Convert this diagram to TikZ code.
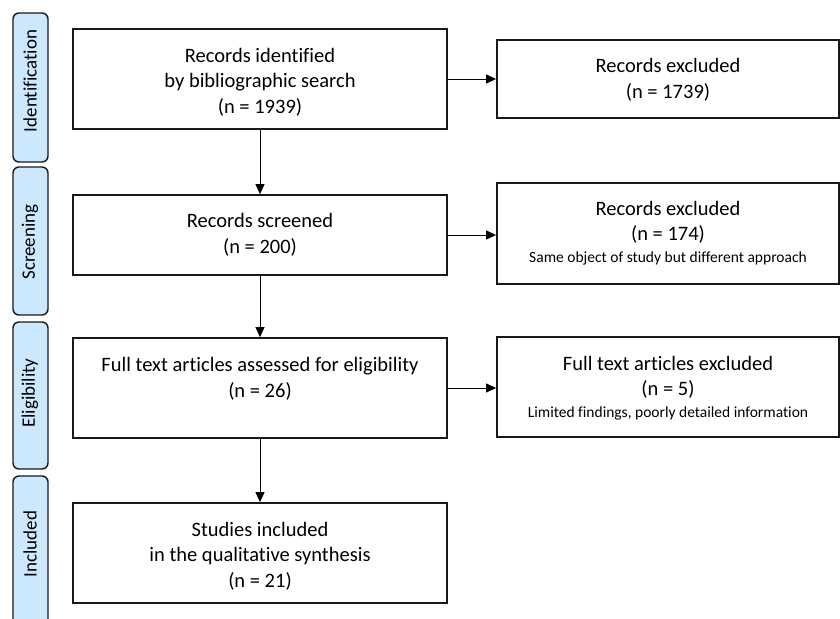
\documentclass[tikz,border=0pt]{standalone}
\usepackage{fontspec}
\setmainfont{Carlito}[Ligatures=NoCommon]
\usetikzlibrary{arrows.meta}
\definecolor{phase}{RGB}{204,232,255}
\begin{document}
\begin{tikzpicture}[x=1pt,y=-1pt,
  mainbox/.style={draw=black!90, line width=1.8pt, fill=white, inner sep=0pt},
  phasebox/.style={draw=black!90, line width=1.4pt, fill=phase, rounded corners=6pt, inner sep=0pt, minimum width=35pt},
  big/.style={align=center, font=\fontsize{20.5}{25.5}\selectfont, inner sep=0pt},
  phtext/.style={rotate=90, font=\fontsize{19}{23}\selectfont, inner sep=0pt},
  conn/.style={line width=1pt, -{Triangle[length=10pt,width=9pt]}}]
\useasboundingbox (0,0) rectangle (840,618);
% phase labels
\node[phasebox, minimum height=149pt] (pI) at (30.5,87.5) {};
\node[phasebox, minimum height=148pt] (pS) at (30.5,241) {};
\node[phasebox, minimum height=147pt] (pE) at (30.5,395.5) {};
\node[phasebox, minimum height=164pt] (pN) at (30.5,558) {};
\node[phtext] (tI) at (30,81) {Identification};
\node[phtext] (tS) at (30,242) {Screening};
\node[phtext] (tE) at (30,393) {Eligibility};
\node[phtext] (tN) at (30,544) {Included};
% left boxes
\node[mainbox, minimum width=374pt, minimum height=100pt] (b1) at (260,79) {};
\node[mainbox, minimum width=374pt, minimum height=80pt] (b2) at (260,235) {};
\node[mainbox, minimum width=374pt, minimum height=100pt] (b3) at (260,388) {};
\node[mainbox, minimum width=374pt, minimum height=100pt] (b4) at (260,553) {};
% right boxes
\node[mainbox, minimum width=342pt, minimum height=78pt] (r1) at (668,79) {};
\node[mainbox, minimum width=342pt, minimum height=101pt] (r2) at (668,233.5) {};
\node[mainbox, minimum width=342pt, minimum height=100pt] (r3) at (668,387) {};
% texts
\node[big] (t1) at (260,82) {Records identified\\by bibliographic search\\(n = 1939)};
\node[big] (t2) at (260,235) {Records screened\\(n = 200)};
\node[big] (t3) at (260,379) {Full text articles assessed for eligibility\\(n = 26)};
\node[big] (t4) at (260,556) {Studies included\\in the qualitative synthesis\\(n = 21)};
\node[big] (tr1) at (668,80) {Records excluded\\(n = 1739)};
\node[big] (tr2) at (668,233) {Records excluded\\(n = 174)\\[-4pt]{\fontsize{15.5}{18}\selectfont Same object of study but different approach}};
\node[big] (tr3) at (668,388) {Full text articles excluded\\(n = 5)\\[-4pt]{\fontsize{15.5}{18}\selectfont Limited findings, poorly detailed information}};
% connectors
\draw[conn] (b1) -- (b2);
\draw[conn] (b2) -- (b3);
\draw[conn] (b3) -- (b4);
\draw[conn] (b1.east) -- (r1.west);
\draw[conn] (b2.east) -- (r2.west |- b2.east);
\draw[conn] (b3.east) -- (r3.west |- b3.east);
\end{tikzpicture}
\end{document}
